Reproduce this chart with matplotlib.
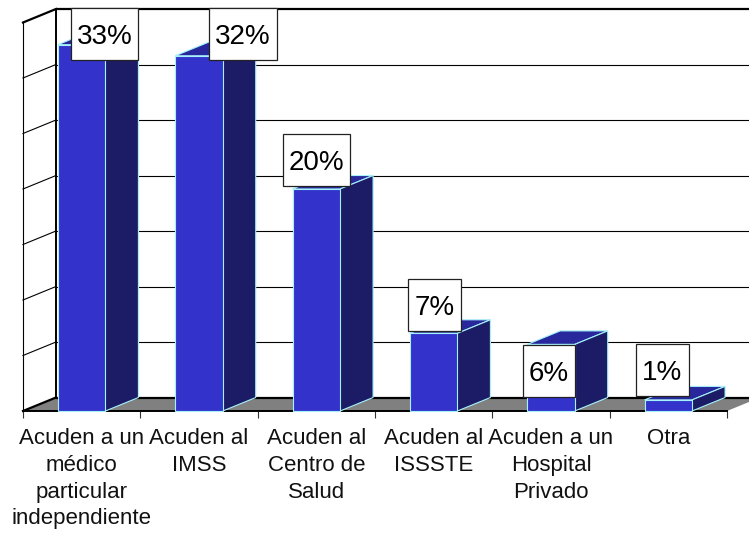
import matplotlib
matplotlib.use("Agg")
import matplotlib.pyplot as plt
from matplotlib.patches import Polygon, Rectangle

plt.rcParams['font.family'] = ['Liberation Sans', 'DejaVu Sans']

categories = ["Acuden a un\nmédico\nparticular\nindependiente", "Acuden al\nIMSS",
              "Acuden al\nCentro de\nSalud", "Acuden al\nISSSTE",
              "Acuden a un\nHospital\nPrivado", "Otra"]
values = [33, 32, 20, 7, 6, 1]
grid_values = [0, 5, 10, 15, 20, 25, 30, 35]

# layout, in pixels of the 749x535 picture
W, H = 749, 535
FLOOR_Y = 411
LEFT_X = 23
PX_PER_CAT = 117.33
PX_PER_PCT = 11.1
DX = 33 / PX_PER_CAT   # depth of the fake 3d
DY = 13.5 / PX_PER_PCT
BAR_W = 0.405

# hand placed label boxes: centre x (categories), centre y (percent)
label_x = [0.695, 1.875, 2.50, 3.507, 4.48, 5.45]
label_y = [33.96, 33.96, 22.6, 9.55, 3.56, 3.65]
BOX_H = 52 / PX_PER_PCT
BOX_PAD = 6 / PX_PER_CAT

FRONT = "#3333cc"
SIDE = "#1c1c66"
TOP = "#28289c"
EDGE = "#a6f2fa"

fig = plt.figure(figsize=(W / 100, H / 100), dpi=100)
ax = fig.add_axes([0, 0, 1, 1])
ax.set_xlim(-LEFT_X / PX_PER_CAT, (W - LEFT_X) / PX_PER_CAT)
ax.set_ylim(-(H - FLOOR_Y) / PX_PER_PCT, FLOOR_Y / PX_PER_PCT)
ax.patch.set_visible(False)

# walls and floor
n = len(categories)
ax.add_patch(Polygon([(0, 0), (n, 0), (n + DX, DY), (DX, DY)], fc="#808080", ec="none", zorder=1))
for v in grid_values[1:]:
    lw = 2 if v == grid_values[-1] else 1
    ax.plot([DX, n + DX], [v + DY, v + DY], color="black", lw=lw * 0.8, zorder=1.5, solid_capstyle="butt")
    ax.plot([0, DX], [v, v + DY], color="black", lw=lw * 0.8, zorder=1.5)
ax.plot([DX, n + DX], [DY, DY], color="black", lw=1.6, zorder=1.5, solid_capstyle="butt")
ax.plot([0, DX], [0, DY], color="black", lw=1.6, zorder=1.5)
ax.plot([DX, DX], [DY, grid_values[-1] + DY], color="black", lw=1.4, zorder=1.5)

# bars
for i, v in enumerate(values):
    x0 = i + 0.5 - BAR_W / 2
    x1 = x0 + BAR_W
    ax.add_patch(Polygon([(x0, v), (x1, v), (x1 + DX, v + DY), (x0 + DX, v + DY)],
                         fc=TOP, ec=EDGE, lw=0.8, zorder=3))
    ax.add_patch(Polygon([(x1, 0), (x1 + DX, DY), (x1 + DX, v + DY), (x1, v)],
                         fc=SIDE, ec=EDGE, lw=0.8, zorder=3))
    ax.add_patch(Rectangle((x0, 0), BAR_W, v, fc=FRONT, ec=EDGE, lw=0.8, zorder=3))

# axes
for s in ("top", "right"):
    ax.spines[s].set_visible(False)
ax.spines["left"].set_position(("data", 0))
ax.spines["left"].set_bounds(0, grid_values[-1])
ax.spines["left"].set_linewidth(0.8)
ax.spines["bottom"].set_position(("data", 0))
ax.spines["bottom"].set_bounds(0, n)
ax.spines["bottom"].set_linewidth(1.4)
ax.spines["bottom"].set_zorder(2)
ax.set_yticks([])
ax.set_xticks(range(n + 1))
ax.set_xticklabels([])
ax.tick_params(axis="x", which="major", length=5, width=0.8, color="#333333")
ax.set_xticks([i + 0.5 for i in range(n)], minor=True)
ax.set_xticklabels(categories, minor=True, fontsize=16, color="#111111", linespacing=1.37)
ax.tick_params(axis="x", which="minor", length=0, pad=12)

# value labels in white boxes
fig.canvas.draw()
renderer = fig.canvas.get_renderer()
for v, lx, ly in zip(values, label_x, label_y):
    t = ax.text(lx, ly, "%d%%" % v, fontsize=20, ha="center", va="center_baseline", color="black", zorder=6)
    bb = t.get_window_extent(renderer).transformed(ax.transData.inverted())
    ax.add_patch(Rectangle((bb.x0 - BOX_PAD, ly - BOX_H / 2), bb.width + 2 * BOX_PAD, BOX_H,
                           fc="white", ec="#222222", lw=0.9, zorder=5))

fig.savefig("out.png", dpi=100)
